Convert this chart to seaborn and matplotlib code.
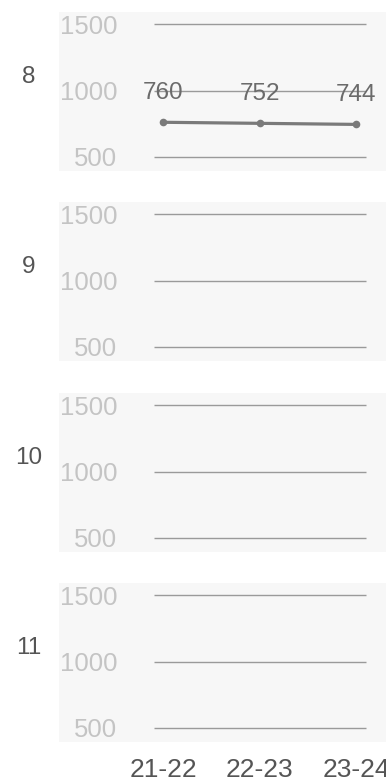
import numpy as np
import pandas as pd
import matplotlib
matplotlib.use("Agg")
import matplotlib.pyplot as plt
import matplotlib.transforms as mtransforms
import seaborn as sns

# Enrollment by grade across three school years
grades = ["8", "9", "10", "11"]
years = ["21-22", "22-23", "23-24"]
grade8_values = [760, 752, 744]
y_ticks = [500, 1000, 1500]

df = pd.DataFrame({"grade": "8", "year": years, "value": grade8_values})
df["pos"] = range(len(years))

sns.set_theme(style="white")
plt.rcParams["font.family"] = ["Liberation Sans", "DejaVu Sans"]

W, H = 386, 782
fig = plt.figure(figsize=(W / 100, H / 100), dpi=100)
fig.patch.set_facecolor("white")

panel_tops = [12, 202, 393, 583]
panel_h = 159
left_px = 59

for i, g in enumerate(grades):
    top = panel_tops[i]
    ax = fig.add_axes([left_px / W, 1 - (top + panel_h) / H, (W - left_px) / W, panel_h / H])
    ax.set_facecolor("#f7f7f7")
    for s in ax.spines.values():
        s.set_visible(False)
    ax.set_xlim(-1.081, 2.308)
    ax.set_ylim(392, 1593)

    ax.hlines(y_ticks, -0.093, 2.097, color="#9a9a9a", lw=1.0, zorder=1)

    sub = df[df["grade"] == g]
    if len(sub):
        sns.lineplot(data=sub, x="pos", y="value", ax=ax, color="#7a7a7a",
                     lw=2.3, marker="o", markersize=5.5, markeredgewidth=0,
                     zorder=3, legend=False)
        for x, v in zip(sub["pos"], sub["value"]):
            ax.annotate(f"{v}", xy=(x, v), xytext=(0, 21), textcoords="offset points",
                        ha="center", va="center", fontsize=17.5, color="#6b6b6b", zorder=4)

    ax.set_xlabel("")
    ax.set_ylabel("")
    ax.set_yticks(y_ticks)
    ax.set_yticklabels([str(t) for t in y_ticks])
    ax.tick_params(axis="y", length=0, pad=-41.8, labelsize=18.5, labelcolor="#c4c4c4")
    ax.set_xticks(range(len(years)))
    if i == len(grades) - 1:
        ax.set_xticklabels(years)
        ax.tick_params(axis="x", length=0, pad=11.5, labelsize=19, labelcolor="#555555")
    else:
        ax.set_xticklabels([])
        ax.tick_params(axis="x", length=0)
    ax.grid(False)

    trans = mtransforms.blended_transform_factory(fig.transFigure, ax.transData)
    ax.text(28.5 / W, 1100, g, transform=trans, ha="center", va="center",
            fontsize=17.5, color="#555555", clip_on=False)

fig.savefig("out.png", dpi=100)
